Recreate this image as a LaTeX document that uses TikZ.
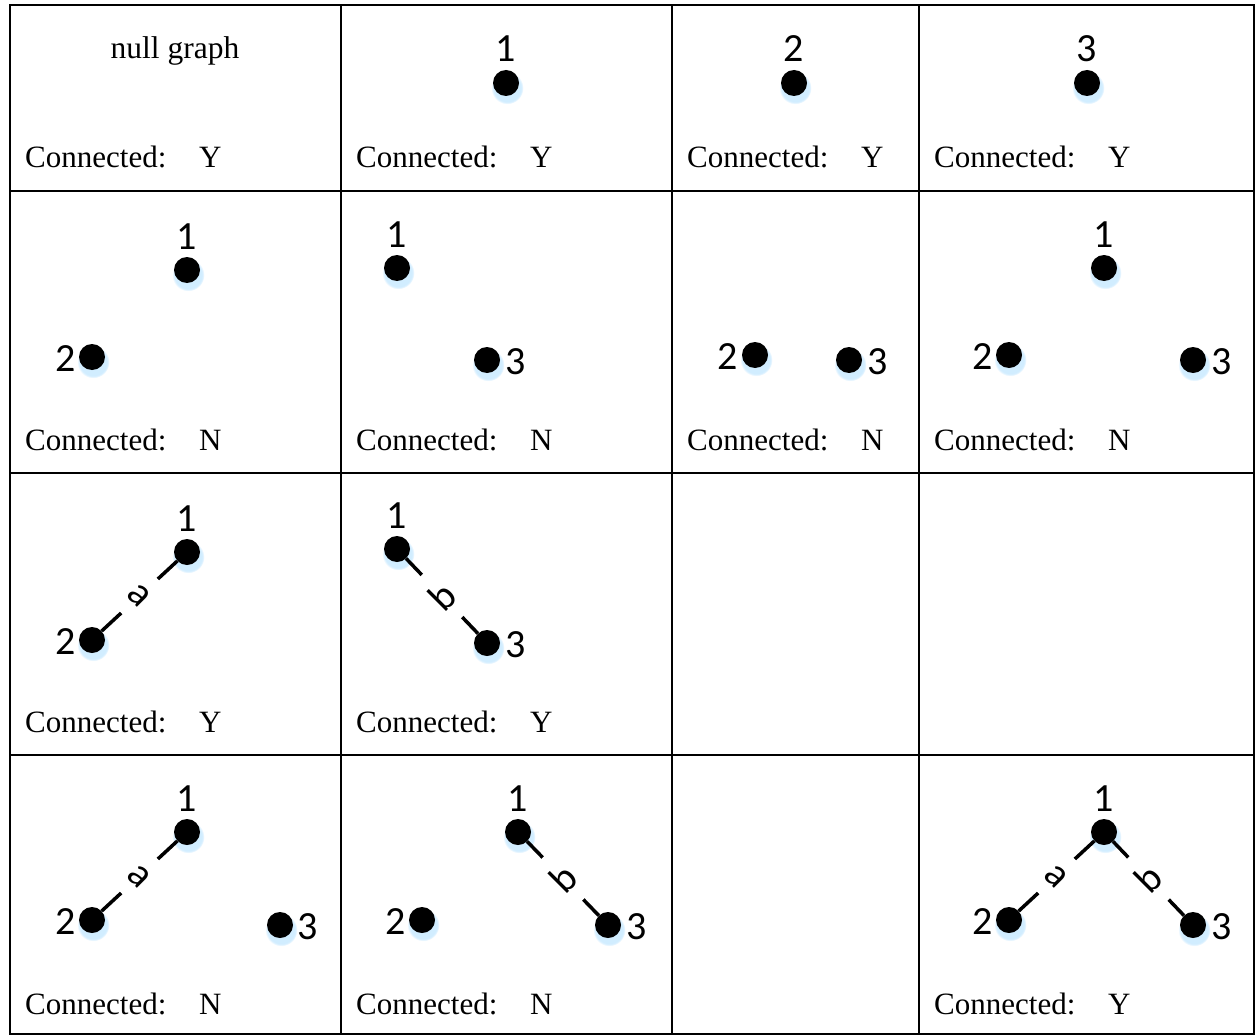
\documentclass[tikz,border=0pt]{standalone}
\usepackage{fontspec}
\setmainfont{Liberation Serif}
\newfontfamily\numfont{Carlito}
\usetikzlibrary{shadows,fadings}
\begin{document}
\begin{tikzpicture}[x=1pt,y=-1pt,
  vtx/.style={circle,fill=black,inner sep=0pt,minimum size=26pt,
    circular drop shadow={shadow xshift=1pt,shadow yshift=-4pt,shadow scale=1.25,fill=blue!40!cyan,opacity=0.18}},
  vlab/.style={font=\numfont\fontsize{40}{40}\selectfont,inner sep=0pt},
  conn/.style={anchor=base west,font=\fontsize{31}{31}\selectfont,inner sep=0pt},
  ttl/.style={font=\fontsize{31.5}{31.5}\selectfont,inner sep=0pt},
  elab/.style={fill=white,font=\numfont\fontsize{40}{40}\selectfont,inner xsep=4pt,inner ysep=15pt},
  edgeline/.style={line width=3.5pt},
  gridline/.style={line width=2.5pt}]
\useasboundingbox (0,0) rectangle (1255,1035);
% grid
\draw[gridline] (10,5) rectangle (1254,1034);
\draw[gridline] (341,5) -- (341,1034);
\draw[gridline] (672,5) -- (672,1034);
\draw[gridline] (919,5) -- (919,1034);
\draw[gridline] (10,191) -- (1254,191);
\draw[gridline] (10,473) -- (1254,473);
\draw[gridline] (10,755) -- (1254,755);

% row 1
\node[ttl] (nullg) at (175,51) {null graph};
\node[conn] (c11t) at (25,168) {Connected:}; \node[conn] (c11y) at (199,168) {Y};
\node[conn] (c12t) at (356,168) {Connected:}; \node[conn] (c12y) at (530,168) {Y};
\node[conn] (c13t) at (687,168) {Connected:}; \node[conn] (c13y) at (861,168) {Y};
\node[conn] (c14t) at (934,168) {Connected:}; \node[conn] (c14y) at (1108,168) {Y};
% row 2
\node[conn] (c21t) at (25,450) {Connected:}; \node[conn] (c21y) at (199,450) {N};
\node[conn] (c22t) at (356,450) {Connected:}; \node[conn] (c22y) at (530,450) {N};
\node[conn] (c23t) at (687,450) {Connected:}; \node[conn] (c23y) at (861,450) {N};
\node[conn] (c24t) at (934,450) {Connected:}; \node[conn] (c24y) at (1108,450) {N};
% row 3
\node[conn] (c31t) at (25,732) {Connected:}; \node[conn] (c31y) at (199,732) {Y};
\node[conn] (c32t) at (356,732) {Connected:}; \node[conn] (c32y) at (530,732) {Y};
% row 4
\node[conn] (c41t) at (25,1014) {Connected:}; \node[conn] (c41y) at (199,1014) {N};
\node[conn] (c42t) at (356,1014) {Connected:}; \node[conn] (c42y) at (530,1014) {N};
\node[conn] (c44t) at (934,1014) {Connected:}; \node[conn] (c44y) at (1108,1014) {Y};

% row 1 vertices
\node[vtx] (c12v1) at (506,83) {}; \node[vlab] (c12l1) at (506,49) {1};
\node[vtx] (c13v2) at (794,83) {}; \node[vlab] (c13l2) at (794,49) {2};
\node[vtx] (c14v3) at (1087,83) {}; \node[vlab] (c14l3) at (1087,49) {3};

% row 2 vertices
\node[vtx] (c21v1) at (187,270) {}; \node[vlab] (c21l1) at (187,237) {1};
\node[vtx] (c21v2) at (92,357) {}; \node[vlab] (c21l2) at (66,359) {2};

\node[vtx] (c22v1) at (397,268) {}; \node[vlab] (c22l1) at (397,235) {1};
\node[vtx] (c22v3) at (487,360) {}; \node[vlab] (c22l3) at (516,362) {3};

\node[vtx] (c23v2) at (755,355) {}; \node[vlab] (c23l2) at (728,357) {2};
\node[vtx] (c23v3) at (849,360) {}; \node[vlab] (c23l3) at (878,362) {3};

\node[vtx] (c24v1) at (1104,268) {}; \node[vlab] (c24l1) at (1104,235) {1};
\node[vtx] (c24v2) at (1009,355) {}; \node[vlab] (c24l2) at (983,357) {2};
\node[vtx] (c24v3) at (1193,360) {}; \node[vlab] (c24l3) at (1222,362) {3};

% row 3
\node[vtx] (c31v1) at (187,552) {}; \node[vlab] (c31l1) at (187,519) {1};
\node[vtx] (c31v2) at (92,640) {}; \node[vlab] (c31l2) at (66,642) {2};
\node[vtx] (c32v1) at (397,549) {}; \node[vlab] (c32l1) at (397,516) {1};
\node[vtx] (c32v3) at (487,643) {}; \node[vlab] (c32l3) at (516,645) {3};

% row 4
\node[vtx] (c41v1) at (187,832) {}; \node[vlab] (c41l1) at (187,799) {1};
\node[vtx] (c41v2) at (92,920) {}; \node[vlab] (c41l2) at (66,922) {2};
\node[vtx] (c41v3) at (280,925) {}; \node[vlab] (c41l3) at (308,927) {3};

\node[vtx] (c42v1) at (518,832) {}; \node[vlab] (c42l1) at (518,799) {1};
\node[vtx] (c42v2) at (422,920) {}; \node[vlab] (c42l2) at (396,922) {2};
\node[vtx] (c42v3) at (608,925) {}; \node[vlab] (c42l3) at (637,927) {3};

\node[vtx] (c44v1) at (1104,832) {}; \node[vlab] (c44l1) at (1104,799) {1};
\node[vtx] (c44v2) at (1009,920) {}; \node[vlab] (c44l2) at (983,922) {2};
\node[vtx] (c44v3) at (1193,925) {}; \node[vlab] (c44l3) at (1222,927) {3};

% edges
\draw[edgeline] (c31v2) -- node[elab,rotate=-45] {a} (c31v1);
\draw[edgeline] (c32v1) -- node[elab,rotate=45] {b} (c32v3);
\draw[edgeline] (c41v2) -- node[elab,rotate=-45] {a} (c41v1);
\draw[edgeline] (c42v1) -- node[elab,rotate=45] {b} (c42v3);
\draw[edgeline] (c44v2) -- node[elab,rotate=-45] {a} (c44v1);
\draw[edgeline] (c44v1) -- node[elab,rotate=45] {b} (c44v3);
\end{tikzpicture}
\end{document}
